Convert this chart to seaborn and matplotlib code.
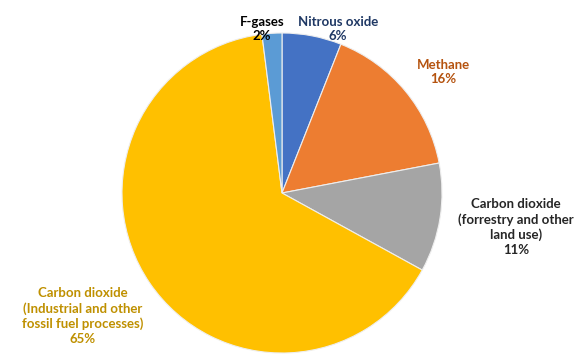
import matplotlib
matplotlib.use("Agg")
import matplotlib.pyplot as plt
import seaborn as sns

categories = ["Nitrous oxide", "Methane",
              "Carbon dioxide\n(forrestry and other\nland use)",
              "Carbon dioxide\n(Industrial and other\nfossil fuel processes)",
              "F-gases"]
values = [6, 16, 11, 65, 2]
colors = ["#4472C4", "#ED7D31", "#A5A5A5", "#FFC000", "#5B9BD5"]
label_colors = ["#1F3864", "#B5530F", "#262626", "#BF9000", "#000000"]
# label centres in pixels (x, y from top) for each category
label_pos = [(338, 29), (443, 72), (516, 227), (83, 316), (262, 29)]

sns.set_theme(style="white")
plt.rcParams['font.family'] = ['Lato', 'DejaVu Sans']

W, H = 575, 354
fig = plt.figure(figsize=(W / 100, H / 100), dpi=100)
fig.patch.set_facecolor("white")
cx, cy, r = 282, 193, 160
ax = fig.add_axes([(cx - r) / W, (H - cy - r) / H, 2 * r / W, 2 * r / H])
ax.pie(values, colors=colors, startangle=90, counterclock=False,
       radius=1.0, wedgeprops=dict(edgecolor="#eeeeee", linewidth=0.8))
ax.set_xlim(-1.0, 1.0)
ax.set_ylim(-1.0, 1.0)
ax.set_aspect("equal")
ax.axis("off")

for cat, v, c, (px, py) in zip(categories, values, label_colors, label_pos):
    fig.text(px / W, 1 - py / H, f"{cat}\n{v}%", ha="center", va="center",
             color=c, fontsize=9.5, fontweight="bold", linespacing=1.28)

fig.savefig("out.png", dpi=100, facecolor="white")
